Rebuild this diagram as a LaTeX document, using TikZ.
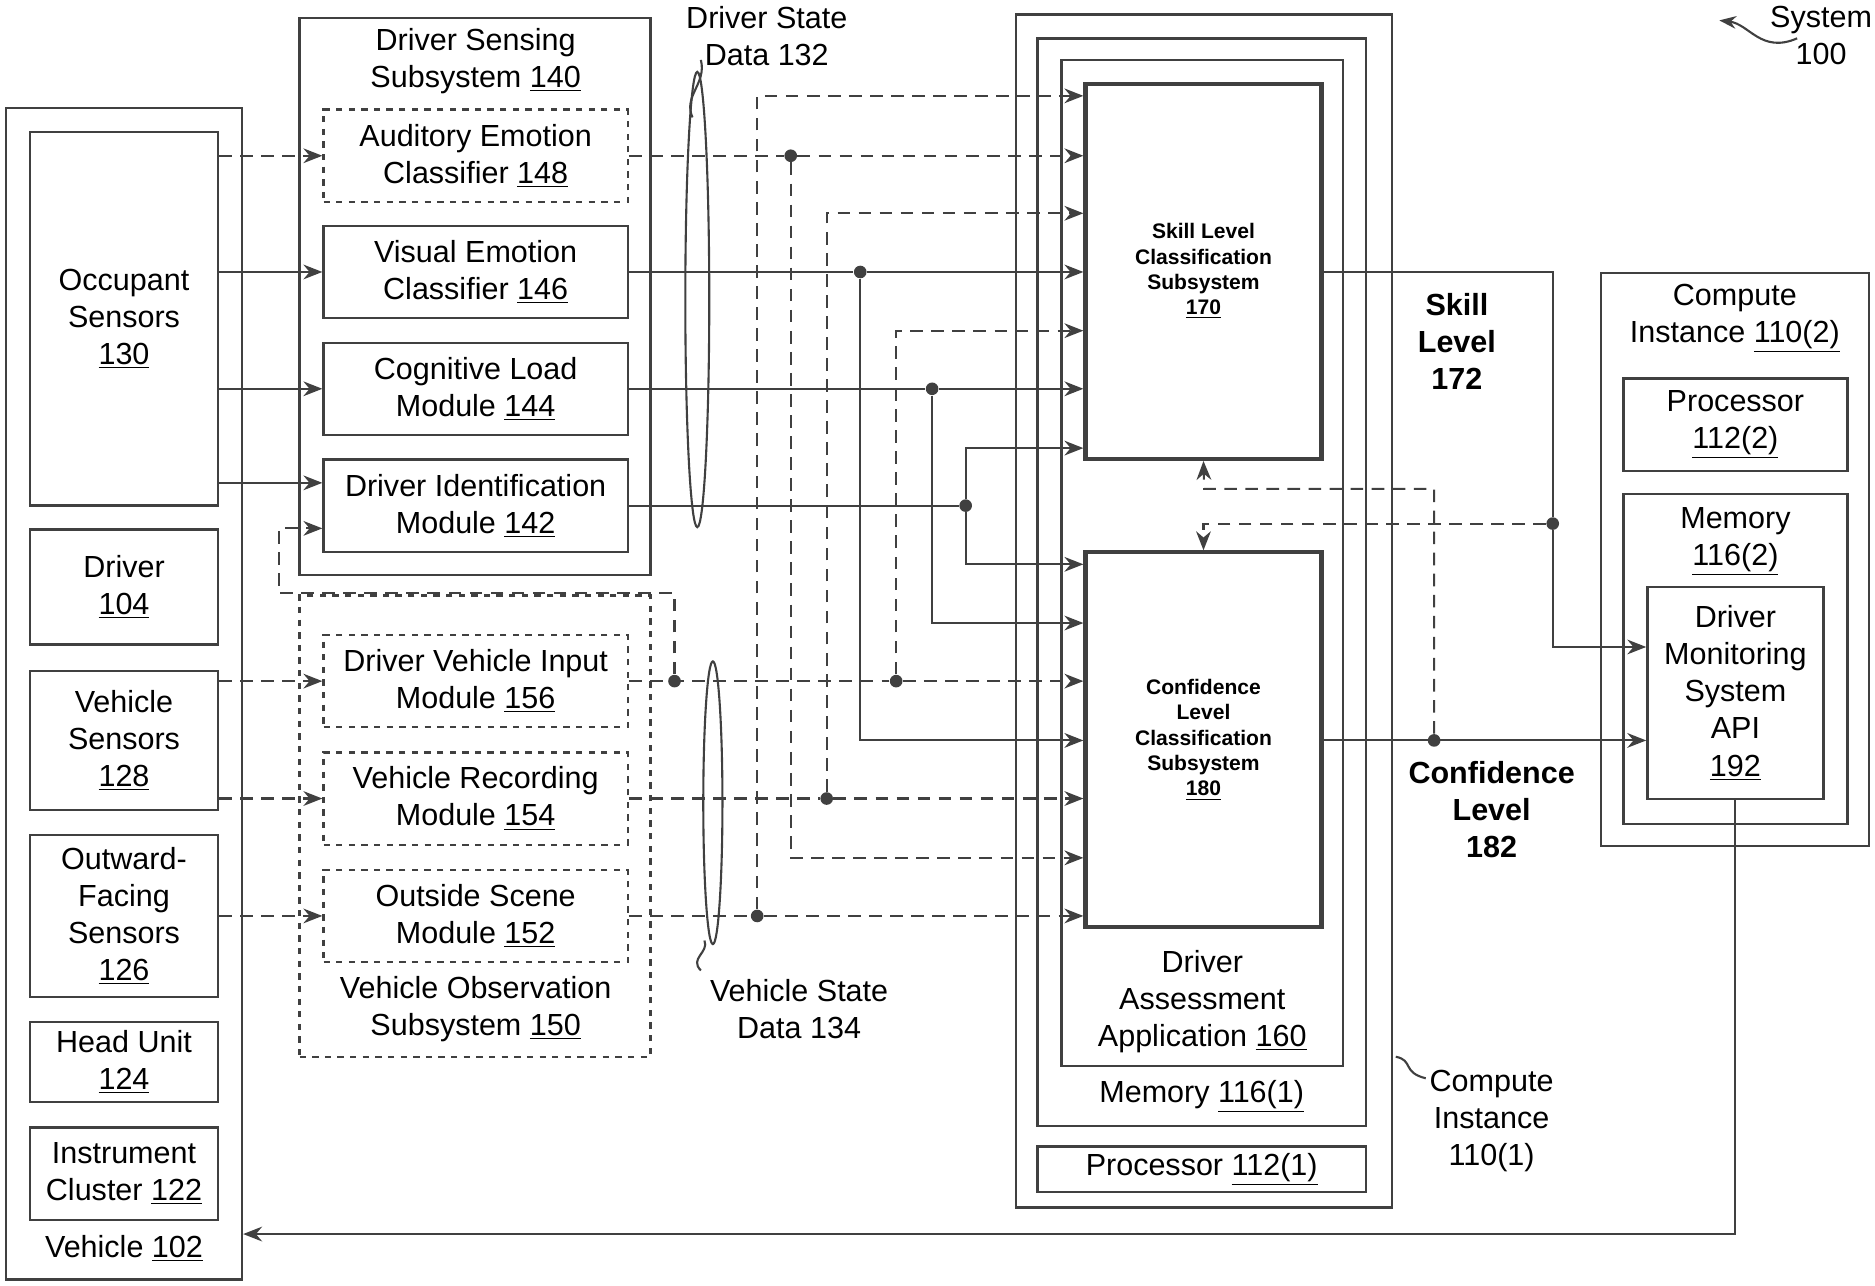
\documentclass[tikz,border=0pt]{standalone}
\usepackage{fontspec}
\setmainfont{Liberation Sans}
\usetikzlibrary{arrows.meta,positioning}
\tikzset{
  box/.style={draw=black!75, line width=1.1pt, align=center, inner sep=0pt},
  dbox/.style={box, dashed},
  tbox/.style={box, line width=2pt, font=\bfseries},
  lbl/.style={align=center, inner sep=0pt},
  wire/.style={draw=black!75, line width=1pt},
  arr/.style={wire, -{Stealth[length=9pt,width=7pt]}},
  darr/.style={arr, dash pattern=on 6pt off 4pt},
  dwire/.style={wire, dash pattern=on 6pt off 4pt},
  dot/.style={circle, fill=black!75, inner sep=0pt, minimum size=6pt}
}
\newcommand{\un}[1]{\underline{#1}}
\begin{document}
\begin{tikzpicture}[x=0.02cm, y=-0.02cm, font=\fontsize{14.5}{17.6}\selectfont]
  \useasboundingbox (0,0) rectangle (1565,1073);
  % vehicle side
  \node[box, minimum width=3.94cm, minimum height=19.56cm] (veh) at (103.5,579) {};
  \node[lbl] at (103.5,1042) {Vehicle \un{102}};
  \node[box, minimum width=3.14cm, minimum height=6.24cm] (occ) at (103.5,266) {Occupant\\Sensors\\\un{130}};
  \node[box, minimum width=3.14cm, minimum height=1.92cm] (drv) at (103.5,490) {Driver\\\un{104}};
  \node[box, minimum width=3.14cm, minimum height=2.32cm] (vsn) at (103.5,618) {Vehicle\\Sensors\\\un{128}};
  \node[box, minimum width=3.14cm, minimum height=2.7cm] (ofs) at (103.5,764.5) {Outward-\\Facing\\Sensors\\\un{126}};
  \node[box, minimum width=3.14cm, minimum height=1.34cm] (hu) at (103.5,886.5) {Head Unit\\\un{124}};
  \node[box, minimum width=3.14cm, minimum height=1.54cm] (ic) at (103.5,979.5) {Instrument\\Cluster \un{122}};
  % subsystems
  \node[box, minimum width=5.86cm, minimum height=9.3cm] (dss) at (396.5,247.5) {};
  \node[lbl] at (397,51) {Driver Sensing\\Subsystem \un{140}};
  \node[dbox, minimum width=5.08cm, minimum height=1.54cm] (aud) at (397,130) {Auditory Emotion\\Classifier \un{148}};
  \node[box, minimum width=5.08cm, minimum height=1.54cm] (vis) at (397,227) {Visual Emotion\\Classifier \un{146}};
  \node[box, minimum width=5.08cm, minimum height=1.54cm] (cog) at (397,324.5) {Cognitive Load\\Module \un{144}};
  \node[box, minimum width=5.08cm, minimum height=1.54cm] (did) at (397,422) {Driver Identification\\Module \un{142}};
  \node[dbox, minimum width=5.86cm, minimum height=7.7cm] (vos) at (396.5,689.5) {};
  \node[lbl] at (397,842) {Vehicle Observation\\Subsystem \un{150}};
  \node[dbox, minimum width=5.08cm, minimum height=1.54cm] (dvi) at (397,568.5) {Driver Vehicle Input\\Module \un{156}};
  \node[dbox, minimum width=5.08cm, minimum height=1.54cm] (vrm) at (397,666.5) {Vehicle Recording\\Module \un{154}};
  \node[dbox, minimum width=5.08cm, minimum height=1.54cm] (osm) at (397,764.5) {Outside Scene\\Module \un{152}};
  % compute instance 1
  \node[box, minimum width=6.28cm, minimum height=19.92cm] (ci1) at (1005,510) {};
  \node[box, minimum width=5.48cm, minimum height=18.16cm] (mem1) at (1003,486) {};
  \node[lbl] at (1003,915) {Memory \un{116(1)}};
  \node[box, minimum width=4.7cm, minimum height=16.8cm] (daa) at (1003.5,470) {};
  \node[lbl] at (1003.5,836) {Driver\\Assessment\\Application \un{160}};
  \node[tbox, minimum width=3.94cm, minimum height=6.26cm] (skl) at (1004.5,226.5) {Skill Level\\Classification\\Subsystem\\\un{170}};
  \node[tbox, minimum width=3.94cm, minimum height=6.26cm] (cnf) at (1004.5,617.5) {Confidence\\Level\\Classification\\Subsystem\\\un{180}};
  \node[box, minimum width=5.48cm, minimum height=0.76cm] (p1) at (1003,976) {Processor \un{112(1)}};
  % compute instance 2
  \node[box, minimum width=4.48cm, minimum height=9.56cm] (ci2) at (1448,467) {};
  \node[lbl] at (1448,266) {Compute\\Instance \un{110(2)}};
  \node[box, minimum width=3.74cm, minimum height=1.54cm] (p2) at (1448.5,354.5) {Processor\\\un{112(2)}};
  \node[box, minimum width=3.74cm, minimum height=5.52cm] (mem2) at (1448.5,550) {};
  \node[lbl] at (1448.5,452) {Memory\\\un{116(2)}};
  \node[box, minimum width=2.94cm, minimum height=3.54cm] (api) at (1448.5,578.5) {Driver\\Monitoring\\System\\API\\\un{192}};
  % labels
  \node[lbl] at (1520,30) {System\\100};
  \node[lbl] at (640,30) {Driver State\\Data 132};
  \node[lbl] at (667,842) {Vehicle State\\Data 134};
  \node[lbl] at (1245,936) {Compute\\Instance\\110(1)};
  \node[lbl, font=\fontsize{14.5}{17.6}\selectfont\bfseries] at (1216,285) {Skill\\Level\\172};
  \node[lbl, font=\fontsize{14.5}{17.6}\selectfont\bfseries] at (1245,676) {Confidence\\Level\\182};
  \draw[wire, -{Stealth[length=8pt]}] (1500,32) .. controls (1470,45) and (1460,20) .. (1435,17);
  \draw[wire] (578,98) .. controls (570,80) and (590,70) .. (585,50);
  \draw[wire] (585,810) .. controls (575,800) and (592,795) .. (588,785);
  \draw[wire] (1190,900) .. controls (1170,895) and (1180,885) .. (1165,882);
  % ellipses
  \draw[wire] (582,250) ellipse [x radius=10, y radius=190];
  \draw[wire] (595,670) ellipse [x radius=8, y radius=118];
  % sensors to modules
  \draw[darr] (occ.east |- aud.west) -- (aud.west);
  \draw[arr] (occ.east |- vis.west) -- (vis.west);
  \draw[arr] (occ.east |- cog.west) -- (cog.west);
  \draw[arr] (occ.east |- 0,403) -- (did.west |- 0,403);
  \draw[darr] (vsn.east |- dvi.west) -- (dvi.west);
  \draw[darr] (vsn.east |- vrm.west) -- (vrm.west);
  \draw[darr] (ofs.east |- osm.west) -- (osm.west);
  \node[dot] (jdvi) at (563,568.5) {};
  \draw[darr] (jdvi) |- (233,495) |- (did.west |- 0,441);
  % driver state data
  \node[dot] (jaud) at (660,130) {};
  \node[dot] (jvis) at (718,227) {};
  \node[dot] (jcog) at (778,324.5) {};
  \node[dot] (jdid) at (806,422) {};
  \draw[dwire] (aud.east) -- (jaud);
  \draw[darr] (jaud) -- (skl.west |- jaud);
  \draw[darr] (jaud) |- (cnf.west |- 0,716);
  \draw[wire] (vis.east) -- (jvis);
  \draw[arr] (jvis) -- (skl.west |- jvis);
  \draw[arr] (jvis) |- (cnf.west |- 0,618);
  \draw[wire] (cog.east) -- (jcog);
  \draw[arr] (jcog) -- (skl.west |- jcog);
  \draw[arr] (jcog) |- (cnf.west |- 0,520);
  \draw[wire] (did.east) -- (jdid);
  \draw[arr] (jdid) |- (skl.west |- 0,374);
  \draw[arr] (jdid) |- (cnf.west |- 0,471);
  % vehicle state data
  \node[dot] (jdvi2) at (748,568.5) {};
  \node[dot] (jvrm) at (690,666.5) {};
  \node[dot] (josm) at (632,764.5) {};
  \draw[dwire] (dvi.east) -- (jdvi2);
  \draw[darr] (jdvi2) -- (cnf.west |- jdvi2);
  \draw[darr] (jdvi2) |- (skl.west |- 0,276);
  \draw[dwire] (vrm.east) -- (jvrm);
  \draw[darr] (jvrm) -- (cnf.west |- jvrm);
  \draw[darr] (jvrm) |- (skl.west |- 0,178);
  \draw[dwire] (osm.east) -- (josm);
  \draw[darr] (josm) -- (cnf.west |- josm);
  \draw[darr] (josm) |- (skl.west |- 0,80);
  % outputs
  \node[dot] (jskl) at (1296,437) {};
  \node[dot] (jcnf) at (1197,618) {};
  \draw[arr] (skl.east |- 0,227) -| (jskl) |- (api.west |- 0,540);
  \draw[arr] (cnf.east |- jcnf) -- (api.west |- jcnf);
  \draw[darr] (jskl) -| (cnf.north);
  \draw[darr] (jcnf) |- (1005,408) -- (skl.south);
  \draw[arr] (api.south) |- (veh.east |- 0,1030);
\end{tikzpicture}
\end{document}
